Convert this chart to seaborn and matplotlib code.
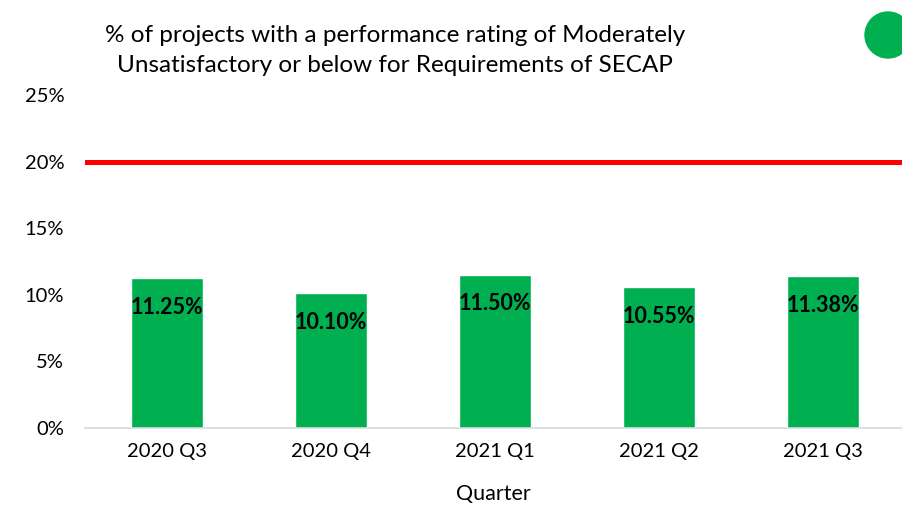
import matplotlib
matplotlib.use("Agg")

import matplotlib.pyplot as plt
import numpy as np
import pandas as pd
import seaborn as sns
from matplotlib.patches import Ellipse
from matplotlib.ticker import PercentFormatter


quarters = ["2020 Q3", "2020 Q4", "2021 Q1", "2021 Q2", "2021 Q3"]
pct_values = [11.25, 10.10, 11.50, 10.55, 11.38]
threshold = 20
y_ticks = [0, 5, 10, 15, 20, 25]

BAR_COLOR = "#00B050"
LINE_COLOR = "#FF0000"

sns.set_theme(style="white")
plt.rcParams["font.family"] = ["Lato", "DejaVu Sans"]

df = pd.DataFrame({"quarter": quarters, "pct": pct_values})

W, H = 902, 505
fig = plt.figure(figsize=(W / 100, H / 100), dpi=100)
ax = fig.add_axes([85 / W, 1 - 428 / H, (902 - 85) / W, (428 - 95) / H])

sns.barplot(data=df, x="quarter", y="pct", color=BAR_COLOR, width=0.44,
            saturation=1, ax=ax)

ax.axhline(threshold, color=LINE_COLOR, lw=3.6, zorder=3)

for i, v in enumerate(df["pct"]):
    ax.annotate(f"{v:.2f}%", (i, v), xytext=(0, -21), textcoords="offset points",
                ha="center", va="center", fontsize=15.5, fontweight="bold",
                color="black")

ax.set_xlim(-0.5, 4.48)
ax.set_ylim(0, 25)
ax.set_yticks(y_ticks)
ax.yaxis.set_major_formatter(PercentFormatter(decimals=0))
ax.tick_params(axis="both", length=0, labelsize=14.5, colors="black")
ax.tick_params(axis="x", pad=11)
ax.tick_params(axis="y", pad=15)
ax.set_ylabel("")
ax.set_xlabel("Quarter", fontsize=15.5, labelpad=17, color="black")

for side in ["top", "right", "left"]:
    ax.spines[side].set_visible(False)
ax.spines["bottom"].set_color("#D9D9D9")
ax.spines["bottom"].set_linewidth(1.2)

fig.text(395 / W, 1 - 35 / H, "% of projects with a performance rating of Moderately",
         ha="center", va="center", fontsize=17.5, color="black")
fig.text(395 / W, 1 - 66 / H, "Unsatisfactory or below for Requirements of SECAP",
         ha="center", va="center", fontsize=17.5, color="black")

fig.patches.append(Ellipse((888 / W, 1 - 35 / H), 46 / W, 46 / H,
                           transform=fig.transFigure, color=BAR_COLOR))

fig.savefig("out.png", dpi=100)
